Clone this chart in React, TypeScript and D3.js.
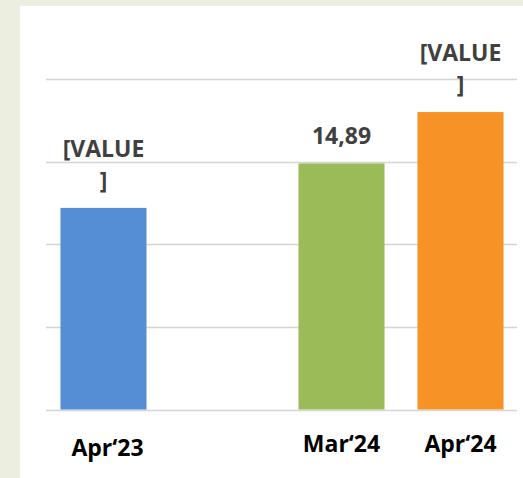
import * as d3 from 'd3';
import * as React from 'react';

const { useRef, useEffect } = React;

const width = 523;
const height = 478;

// chart data
const categories = ['Apr‘23', '', 'Mar‘24', 'Apr‘24'];
const values = [12.2, null, 14.89, 18.0];
const valueLabels = ['[VALUE]', '', '14,89', '[VALUE]'];
const barColors = ['#558ed5', '#ffffff', '#9bbb59', '#f79226'];
const yTicks = [0, 5, 10, 15, 20];

// Excel wraps the placeholder label inside a narrow box
const wrap = (s: string, max = 6) => {
  const lines: string[] = [];
  for (let i = 0; i < s.length; i += max) lines.push(s.slice(i, i + max));
  return lines;
};

export default () => {
  const rootRef = useRef<SVGSVGElement>(null);

  useEffect(() => {
    const svgEl = rootRef.current;
    if (!svgEl) return;

    const svg = d3.select(svgEl);
    svg.selectAll('*').remove();

    // page + chart area
    svg.append('rect').attr('width', width).attr('height', height).attr('fill', '#ecefe0');
    svg
      .append('rect')
      .attr('x', 20)
      .attr('y', 6)
      .attr('width', width - 20)
      .attr('height', height - 6)
      .attr('fill', '#ffffff');

    const x = d3
      .scaleBand()
      .domain(categories.map((c, i) => String(i)))
      .range([44, 520])
      .paddingInner(0.277)
      .paddingOuter(0.1385);

    const y = d3.scaleLinear().domain([0, 20]).range([409.5, 79]);

    // gridlines
    svg
      .append('g')
      .selectAll('line')
      .data(yTicks)
      .join('line')
      .attr('x1', 46)
      .attr('x2', 517)
      .attr('y1', d => Math.round(y(d)) + 0.5)
      .attr('y2', d => Math.round(y(d)) + 0.5)
      .attr('stroke', '#d4d4d4')
      .attr('stroke-width', 1.3);

    const rows = categories
      .map((c, i) => ({ key: String(i), cat: c, value: values[i], label: valueLabels[i], color: barColors[i] }))
      .filter(d => d.value != null) as { key: string; cat: string; value: number; label: string; color: string }[];

    svg
      .append('g')
      .selectAll('rect')
      .data(rows)
      .join('rect')
      .attr('x', d => x(d.key) as number)
      .attr('y', d => y(d.value))
      .attr('width', x.bandwidth())
      .attr('height', d => y(0) - y(d.value))
      .attr('fill', d => d.color);

    // value labels
    const lbl = svg
      .append('g')
      .attr('font-family', '"Open Sans", sans-serif')
      .attr('font-weight', 'bold')
      .attr('font-size', 23)
      .attr('fill', '#404040')
      .attr('text-anchor', 'middle')
      .selectAll('text')
      .data(rows)
      .join('text')
      .attr('x', d => (x(d.key) as number) + x.bandwidth() / 2)
      .attr('y', d => y(d.value) - 19);

    lbl
      .selectAll('tspan')
      .data(d => {
        const lines = wrap(d.label);
        return lines.map((t, j) => ({ t, dy: (j - (lines.length - 1)) * 32 }));
      })
      .join('tspan')
      .attr('x', function () {
        return (this.parentNode as SVGTextElement).getAttribute('x');
      })
      .attr('dy', (d, j) => (j === 0 ? d.dy : 32))
      .text(d => d.t);

    // category labels
    svg
      .append('g')
      .attr('font-family', '"Open Sans", sans-serif')
      .attr('font-weight', 'bold')
      .attr('font-size', 23)
      .attr('fill', '#000000')
      .attr('text-anchor', 'middle')
      .selectAll('text')
      .data(rows)
      .join('text')
      .attr('x', d => (x(d.key) as number) + x.bandwidth() / 2 + (d.key === '0' ? 4 : 0))
      .attr('y', d => (d.key === '0' ? 456 : 452))
      .text(d => d.cat);
  }, []);

  return (
    <svg
      ref={rootRef}
      width={width}
      height={height}
      style={{ position: 'absolute', left: 0, top: 0, display: 'block' }}
    />
  );
};
